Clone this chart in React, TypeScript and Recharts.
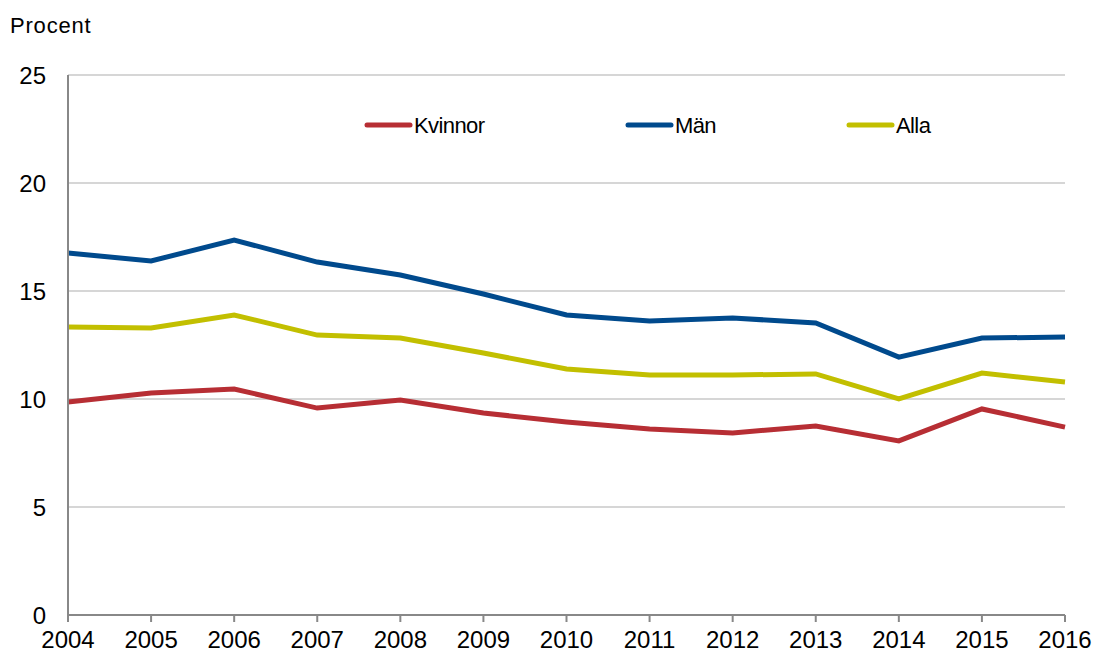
import React from 'react';
import { LineChart, Line, XAxis, YAxis, CartesianGrid, Legend } from 'recharts';

const years = [2004, 2005, 2006, 2007, 2008, 2009, 2010, 2011, 2012, 2013, 2014, 2015, 2016];
const kvinnor = [9.86, 10.28, 10.46, 9.58, 9.95, 9.35, 8.94, 8.61, 8.43, 8.75, 8.06, 9.54, 8.70];
const man = [16.76, 16.39, 17.36, 16.34, 15.74, 14.86, 13.89, 13.61, 13.75, 13.52, 11.94, 12.82, 12.87];
const alla = [13.33, 13.29, 13.89, 12.96, 12.82, 12.13, 11.39, 11.11, 11.11, 11.16, 10.0, 11.2, 10.79];
const yTicks = [0, 5, 10, 15, 20, 25];
const seriesNames = ['Kvinnor', 'Män', 'Alla'];

const data = years.map((y, i) => ({ year: y, Kvinnor: kvinnor[i], Män: man[i], Alla: alla[i] }));

const FONT = '"Liberation Sans", Arial, sans-serif';
const legendX = [364, 625, 846];

const renderLegend = (props: any) => {
  const { payload } = props;
  const items = seriesNames.map((n) => payload.find((p: any) => p.value === n)).filter(Boolean);
  return (
    <svg width={1095} height={30} style={{ overflow: 'visible', display: 'block' }}>
      {items.map((p: any, i: number) => (
        <g key={p.value}>
          <line x1={legendX[i] + 3} x2={legendX[i] + 46} y1={15} y2={15} stroke={p.color} strokeWidth={5} strokeLinecap="round" />
          <text x={legendX[i] + 50} y={23} fontSize={22} letterSpacing={-0.6} fontFamily={FONT} fill="#000">{p.value}</text>
        </g>
      ))}
    </svg>
  );
};

export default function App() {
  return (
    <div style={{ position: 'absolute', left: 0, top: 0, width: 1095, height: 655, background: '#fff' }}>
      <div style={{ position: 'absolute', left: 10, top: 13, fontFamily: FONT, fontSize: 22, letterSpacing: 0.8, color: '#000', lineHeight: '26px' }}>Procent</div>
      <LineChart width={1095} height={655} data={data} margin={{ top: 75, right: 30, left: 0, bottom: 0 }}>
        <CartesianGrid vertical={false} stroke="#c8c8c8" strokeWidth={1.5} />
        <XAxis
          dataKey="year"
          type="number"
          domain={[2004, 2016]}
          ticks={years}
          interval={0}
          height={40}
          stroke="#888"
          strokeWidth={2}
          tickSize={7}
          tick={{ fill: '#000', fontSize: 24, fontFamily: FONT, dy: 7 }}
        />
        <XAxis xAxisId="top" orientation="top" dataKey="year" type="number" domain={[2004, 2016]} tick={false} tickLine={false} height={0} stroke="#888" strokeWidth={2} />
        <YAxis
          domain={[0, 25]}
          ticks={yTicks}
          width={68}
          stroke="#888"
          strokeWidth={2}
          tickLine={false}
          tick={{ fill: '#000', fontSize: 24, fontFamily: FONT, dx: -14 }}
        />
        <YAxis yAxisId="right" orientation="right" domain={[0, 25]} tick={false} tickLine={false} width={0} stroke="#888" strokeWidth={2} />
        <Legend content={renderLegend} layout="horizontal" verticalAlign="middle" wrapperStyle={{ top: 110, left: 0 }} />
        <Line dataKey="Kvinnor" stroke="#B72E34" strokeWidth={5} dot={false} isAnimationActive={false} />
        <Line dataKey="Män" stroke="#004A8D" strokeWidth={5} dot={false} isAnimationActive={false} />
        <Line dataKey="Alla" stroke="#C2BF00" strokeWidth={5} dot={false} isAnimationActive={false} />
      </LineChart>
    </div>
  );
}
